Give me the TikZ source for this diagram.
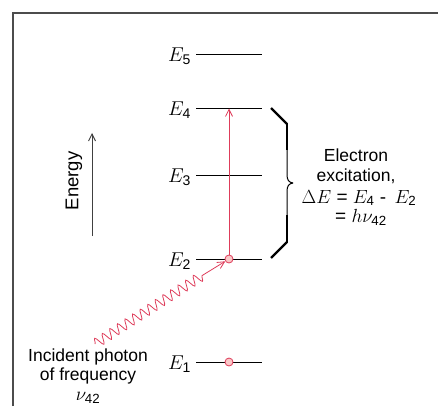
\RequirePackage{fix-cm}
\documentclass[tikz,border=0pt]{standalone}
\usepackage{amsmath}
\usepackage{fontspec}
\setmainfont{Liberation Sans}
\usetikzlibrary{decorations.pathmorphing,arrows.meta}
\definecolor{phred}{RGB}{222,60,90}
\definecolor{phpink}{RGB}{250,200,200}
\tikzset{
  lvl/.style={line width=0.9pt, black},
  elab/.style={font=\fontsize{20}{22}\selectfont, anchor=east, inner sep=1pt},
  txt/.style={font=\fontsize{17.5}{20}\selectfont, align=center, inner sep=0pt},
  mtxt/.style={txt, font=\fontsize{19}{20}\selectfont},
  dot/.style={circle, draw=phred, fill=phpink, line width=0.8pt, minimum size=8pt, inner sep=0pt},
  redarr/.style={phred, line width=0.8pt, -{Straight Barb[length=7pt,width=7pt]}},
  framel/.style={line width=1.1pt, black!70},
}
\begin{document}
\begin{tikzpicture}[x=1pt,y=-1pt]
\useasboundingbox (0,0) rectangle (438,406);
% frame
\draw[framel] (13,406) -- (13,13) -- (438,13);
% levels
\foreach \n/\y in {5/54,4/108,3/175,2/259,1/362}{
  \coordinate (L\n a) at (196,\y);
  \coordinate (L\n b) at (262,\y);
  \draw[lvl] (L\n a) -- (L\n b);
  \node[elab] (lab\n) at (192,\y+2) {$E_{\text{\n}}$};
}
% electrons
\node[dot] (c2) at (229,259) {};
\node[dot] (c1) at (229,362) {};
\coordinate (top4) at (229,108.5);
\draw[redarr] (c2) -- (top4);
% photon
\coordinate (p0) at (95,344);
\coordinate (p1) at (203,275);
\draw[phred, line width=0.8pt, decorate, decoration={snake, amplitude=5pt, segment length=9pt}] (p0) -- (p1);
\draw[redarr] (p1) -- (c2);
% energy axis
\coordinate (ea) at (92,236);
\coordinate (eb) at (92,133);
\draw[line width=0.9pt, black!75, -{Straight Barb[length=7pt,width=7pt]}] (ea) -- (eb);
\node[txt, rotate=90, font=\fontsize{18.5}{20}\selectfont] (energy) at (74,181) {Energy};
% brace
\draw[line width=2.4pt] (271,108) -- (287,124);
\draw[line width=1.6pt] (287,123) -- (287,150);
\draw[line width=1pt] (287,150) -- (287,175) .. controls (287,180) and (289,182.5) .. (293,183);
\draw[line width=1pt] (293,183) .. controls (289,183.5) and (287,186) .. (287,191) -- (287,215);
\draw[line width=1.6pt] (287,215) -- (287,243);
\draw[line width=2.4pt] (287,242) -- (271,258);
% texts
\node[txt] (t1) at (356,155) {Electron};
\node[txt] (t2) at (356,176) {excitation,};
\node[mtxt] (t3) at (359,198) {$\Delta E$ = $E_{\text{4}}$ - \,$E_{\text{2}}$};
\node[mtxt] (t4) at (361,217) {= $h\nu_{\text{42}}$};
\node[txt] (i1) at (88,357) {Incident photon};
\node[txt] (i2) at (88,376) {of frequency};
\node[mtxt] (i3) at (88,398) {$\nu_{\text{42}}$};
\end{tikzpicture}
\end{document}
